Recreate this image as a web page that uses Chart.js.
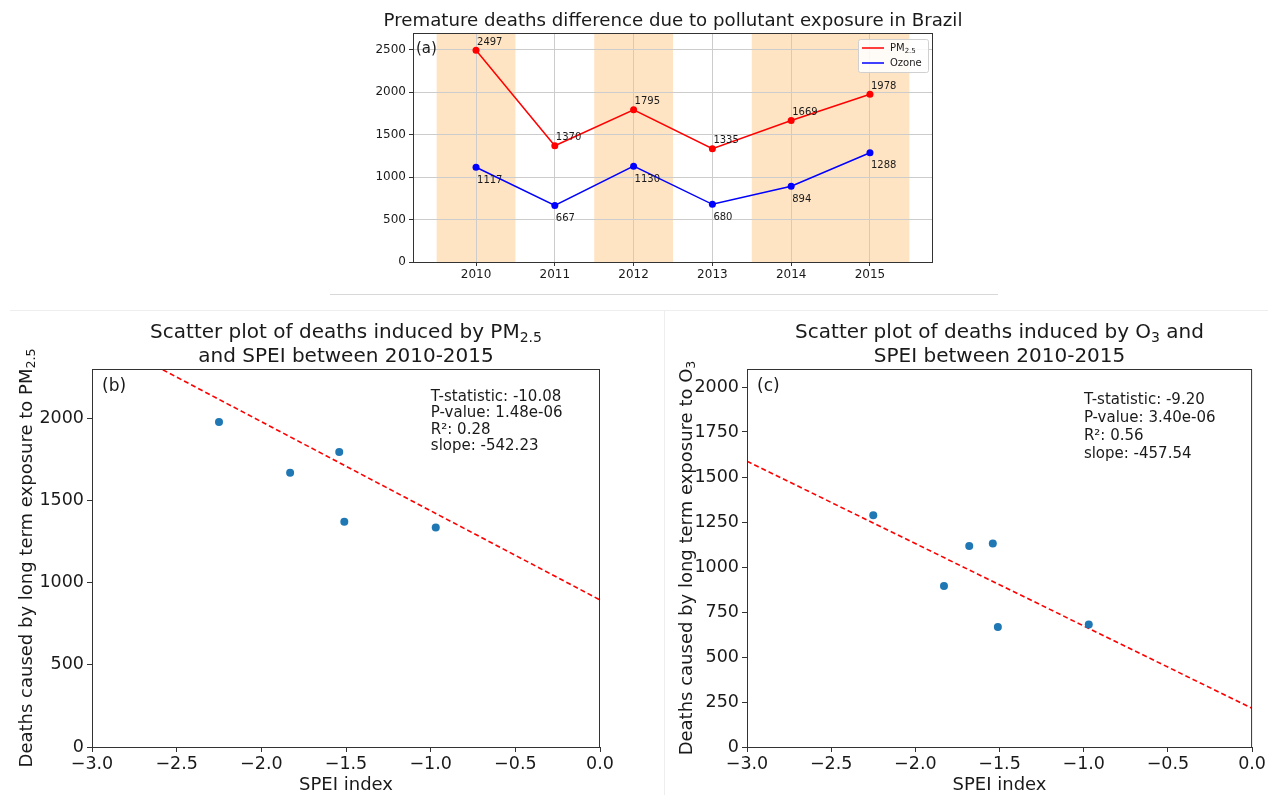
<!DOCTYPE html>
<html>
<head>
<meta charset="utf-8">
<script src="https://cdn.jsdelivr.net/npm/chart.js@4.4.0/dist/chart.umd.min.js"></script>
<style>
  body { margin: 0; background: #fff; width: 1268px; height: 795px; position: relative; overflow: hidden; }
  canvas { position: absolute; }
  .sep { position: absolute; background: #e4e4e4; }
</style>
</head>
<body>
<canvas id="topChart" width="670" height="295" style="left:330px;top:0"></canvas>
<div class="sep" style="left:330px;top:294px;width:668px;height:1px;background:#d8d8d8"></div>
<div class="sep" style="left:10px;top:310px;width:1258px;height:1px;background:#eeeeee"></div>
<div class="sep" style="left:664px;top:311px;width:1px;height:484px;background:#eeeeee"></div>
<canvas id="pmChart" width="663" height="484" style="left:0;top:311px"></canvas>
<canvas id="o3Chart" width="603" height="484" style="left:665px;top:311px"></canvas>

<script>
// ---- data ----
var years = [2010, 2011, 2012, 2013, 2014, 2015];
var pm25 = [2497, 1370, 1795, 1335, 1669, 1978];
var ozone = [1117, 667, 1130, 680, 894, 1288];
var spei = [-1.68, -1.51, -1.54, -0.97, -1.83, -2.25];
var shadedSpans = [[2009.5, 2010.5], [2011.5, 2012.5], [2013.5, 2015.5]];
var topYTicks = [0, 500, 1000, 1500, 2000, 2500];
var speiTicks = [-3, -2.5, -2, -1.5, -1, -0.5, 0];
var pmTicks = [0, 500, 1000, 1500, 2000];
var o3Ticks = [0, 250, 500, 750, 1000, 1250, 1500, 1750, 2000];
var pmFit = { slope: -542.23, intercept: 895 };
var o3Fit = { slope: -457.54, intercept: 215 };
var pmStats = ['T-statistic: -10.08', 'P-value: 1.48e-06', 'R\u00b2: 0.28', 'slope: -542.23'];
var o3Stats = ['T-statistic: -9.20', 'P-value: 3.40e-06', 'R\u00b2: 0.56', 'slope: -457.54'];

var FONT = '"DejaVu Sans", sans-serif';
var INK = '#1a1a1a';

// text with optional subscript parts: parts = [[text, isSub], ...]
function drawRich(ctx, parts, x, y, size, align, rotate) {
  ctx.save();
  ctx.translate(x, y);
  if (rotate) ctx.rotate(-Math.PI / 2);
  ctx.fillStyle = INK;
  ctx.textBaseline = 'middle';
  ctx.textAlign = 'left';
  var w = 0;
  parts.forEach(function (p) {
    ctx.font = (p[1] ? size * 0.7 : size) + 'px ' + FONT;
    w += ctx.measureText(p[0]).width;
  });
  var cx = align === 'center' ? -w / 2 : (align === 'right' ? -w : 0);
  parts.forEach(function (p) {
    ctx.font = (p[1] ? size * 0.7 : size) + 'px ' + FONT;
    ctx.fillText(p[0], cx, p[1] ? size * 0.28 : 0);
    cx += ctx.measureText(p[0]).width;
  });
  ctx.restore();
}

function points(xs, ys) {
  var out = [];
  for (var i = 0; i < xs.length; i++) out.push({ x: xs[i], y: ys[i] });
  return out;
}

function minusFmt(v) {
  return (v < 0 ? '\u2212' : '') + Math.abs(v).toFixed(1);
}

// ---- top chart ----
var topPlugin = {
  id: 'topDecor',
  beforeDraw: function (chart) {
    var ctx = chart.ctx, a = chart.chartArea, x = chart.scales.x;
    ctx.save();
    ctx.fillStyle = '#ffe4c4';
    shadedSpans.forEach(function (s) {
      var x0 = x.getPixelForValue(s[0]), x1 = x.getPixelForValue(s[1]);
      ctx.fillRect(x0, a.top, x1 - x0, a.bottom - a.top);
    });
    ctx.restore();
  },
  afterDatasetsDraw: function (chart) {
    var ctx = chart.ctx;
    ctx.save();
    ctx.font = '10px ' + FONT;
    ctx.fillStyle = INK;
    ctx.textBaseline = 'middle';
    ctx.textAlign = 'left';
    chart.getDatasetMeta(0).data.forEach(function (pt, j) {
      ctx.fillText(String(pm25[j]), pt.x + 1, pt.y - 8);
    });
    chart.getDatasetMeta(1).data.forEach(function (pt, j) {
      ctx.fillText(String(ozone[j]), pt.x + 1, pt.y + 13);
    });
    ctx.restore();
  },
  afterDraw: function (chart) {
    var ctx = chart.ctx, a = chart.chartArea;
    ctx.save();
    ctx.strokeStyle = '#333';
    ctx.lineWidth = 1;
    ctx.strokeRect(a.left + 0.5, a.top + 0.5, a.right - a.left - 1, a.bottom - a.top);
    // legend
    var lx = a.right - 75, ly = a.top + 6;
    ctx.fillStyle = 'rgba(255,255,255,0.85)';
    ctx.strokeStyle = '#d0d0d0';
    ctx.beginPath();
    ctx.roundRect(lx + 0.5, ly + 0.5, 70, 33, 2);
    ctx.fill();
    ctx.stroke();
    ctx.lineWidth = 1.5;
    ctx.strokeStyle = 'red';
    ctx.beginPath(); ctx.moveTo(lx + 4, ly + 9); ctx.lineTo(lx + 26, ly + 9); ctx.stroke();
    ctx.strokeStyle = 'blue';
    ctx.beginPath(); ctx.moveTo(lx + 4, ly + 24); ctx.lineTo(lx + 26, ly + 24); ctx.stroke();
    ctx.restore();
    drawRich(ctx, [['PM', false], ['2.5', true]], lx + 32, ly + 9, 10, 'left');
    drawRich(ctx, [['Ozone', false]], lx + 32, ly + 24, 10, 'left');
    drawRich(ctx, [['(a)', false]], a.left + 3, a.top + 16, 15, 'left');
    drawRich(ctx, [['Premature deaths difference due to pollutant exposure in Brazil', false]],
      (a.left + a.right) / 2, 21, 18.2, 'center');
  }
};

new Chart(document.getElementById('topChart'), {
  type: 'line',
  data: {
    datasets: [
      { label: 'PM2.5', data: points(years, pm25), borderColor: 'red', backgroundColor: 'red',
        borderWidth: 1.5, pointRadius: 3.5, pointBorderWidth: 0, tension: 0 },
      { label: 'Ozone', data: points(years, ozone), borderColor: 'blue', backgroundColor: 'blue',
        borderWidth: 1.5, pointRadius: 3.5, pointBorderWidth: 0, tension: 0 }
    ]
  },
  options: {
    responsive: false,
    animation: false,
    events: [],
    layout: { padding: { left: 0, right: 67, top: 33, bottom: 0 } },
    plugins: { legend: { display: false }, tooltip: { enabled: false } },
    scales: {
      x: {
        type: 'linear', min: 2009.2, max: 2015.8,
        afterBuildTicks: function (s) { s.ticks = years.map(function (v) { return { value: v }; }); },
        afterFit: function (s) { s.height = 33; },
        border: { display: false },
        grid: { color: '#cccccc', tickColor: '#333', tickLength: 4 },
        ticks: { color: INK, font: { family: FONT, size: 12 }, padding: 2, autoSkip: false, maxRotation: 0,
          callback: function (v) { return String(v); } }
      },
      y: {
        min: 0, max: 2700,
        afterBuildTicks: function (s) { s.ticks = topYTicks.map(function (v) { return { value: v }; }); },
        afterFit: function (s) { s.width = 83; },
        border: { display: false },
        grid: { color: '#cccccc', tickColor: '#333', tickLength: 4 },
        ticks: { color: INK, font: { family: FONT, size: 12 }, padding: 3,
          callback: function (v) { return String(v); } }
      }
    }
  },
  plugins: [topPlugin]
});

// ---- scatter charts ----
function scatterChart(id, values, fit, yTicks, yMax, yWidth, rightPad, panel, stats, statsTop, statsGap,
                      titleParts, yTitleParts, yTitleX) {
  var fitLine = [
    { x: -3, y: fit.intercept + fit.slope * -3 },
    { x: 0, y: fit.intercept }
  ];
  var decor = {
    id: 'decor' + id,
    afterDraw: function (chart) {
      var ctx = chart.ctx, a = chart.chartArea;
      ctx.save();
      ctx.strokeStyle = '#333';
      ctx.lineWidth = 1;
      ctx.strokeRect(a.left + 0.5, a.top + 0.5, a.right - a.left - 1, a.bottom - a.top);
      ctx.restore();
      var cx = (a.left + a.right) / 2;
      drawRich(ctx, titleParts[0], cx, 22, 20, 'center');
      drawRich(ctx, titleParts[1], cx, 46, 20, 'center');
      drawRich(ctx, [['SPEI index', false]], cx, 474, 18, 'center');
      drawRich(ctx, yTitleParts, yTitleX, (a.top + a.bottom) / 2, 18, 'center', true);
      drawRich(ctx, [[panel, false]], a.left + 10, a.top + 18, 17, 'left');
      var sx = a.left + (a.right - a.left) * 0.667;
      stats.forEach(function (s, i) {
        drawRich(ctx, [[s, false]], sx, a.top + statsTop + i * statsGap, 15, 'left');
      });
    }
  };
  return new Chart(document.getElementById(id), {
    type: 'scatter',
    data: {
      datasets: [
        { data: points(spei, values), backgroundColor: '#1f77b4', pointRadius: 4, pointBorderWidth: 0 },
        { data: fitLine, showLine: true, borderColor: 'red', borderWidth: 1.6, borderDash: [5, 3],
          pointRadius: 0 }
      ]
    },
    options: {
      responsive: false,
      animation: false,
      events: [],
      layout: { padding: { left: 0, right: rightPad, top: 58, bottom: 0 } },
      plugins: { legend: { display: false }, tooltip: { enabled: false } },
      scales: {
        x: {
          type: 'linear', min: -3, max: 0,
          afterBuildTicks: function (s) { s.ticks = speiTicks.map(function (v) { return { value: v }; }); },
          afterFit: function (s) { s.height = 48; },
          border: { display: false },
          grid: { drawOnChartArea: false, tickColor: '#333', tickLength: 5 },
          ticks: { color: INK, font: { family: FONT, size: 17.5 }, padding: 2, autoSkip: false, maxRotation: 0,
            callback: minusFmt }
        },
        y: {
          min: 0, max: yMax,
          afterBuildTicks: function (s) { s.ticks = yTicks.map(function (v) { return { value: v }; }); },
          afterFit: function (s) { s.width = yWidth; },
          border: { display: false },
          grid: { drawOnChartArea: false, tickColor: '#333', tickLength: 5 },
          ticks: { color: INK, font: { family: FONT, size: 17.5 }, padding: 3,
            callback: function (v) { return String(v); } }
        }
      }
    },
    plugins: [decor]
  });
}

scatterChart('pmChart', pm25, pmFit, pmTicks, 2300, 92, 63, '(b)', pmStats, 28, 16.5,
  [[['Scatter plot of deaths induced by PM', false], ['2.5', true]], [['and SPEI between 2010-2015', false]]],
  [['Deaths caused by long term exposure to PM', false], ['2.5', true]], 27);

scatterChart('o3Chart', ozone, o3Fit, o3Ticks, 2100, 82, 15, '(c)', o3Stats, 31, 18,
  [[['Scatter plot of deaths induced by O', false], ['3', true], [' and', false]], [['SPEI between 2010-2015', false]]],
  [['Deaths caused by long term exposure to O', false], ['3', true]], 22);
</script>
</body>
</html>
